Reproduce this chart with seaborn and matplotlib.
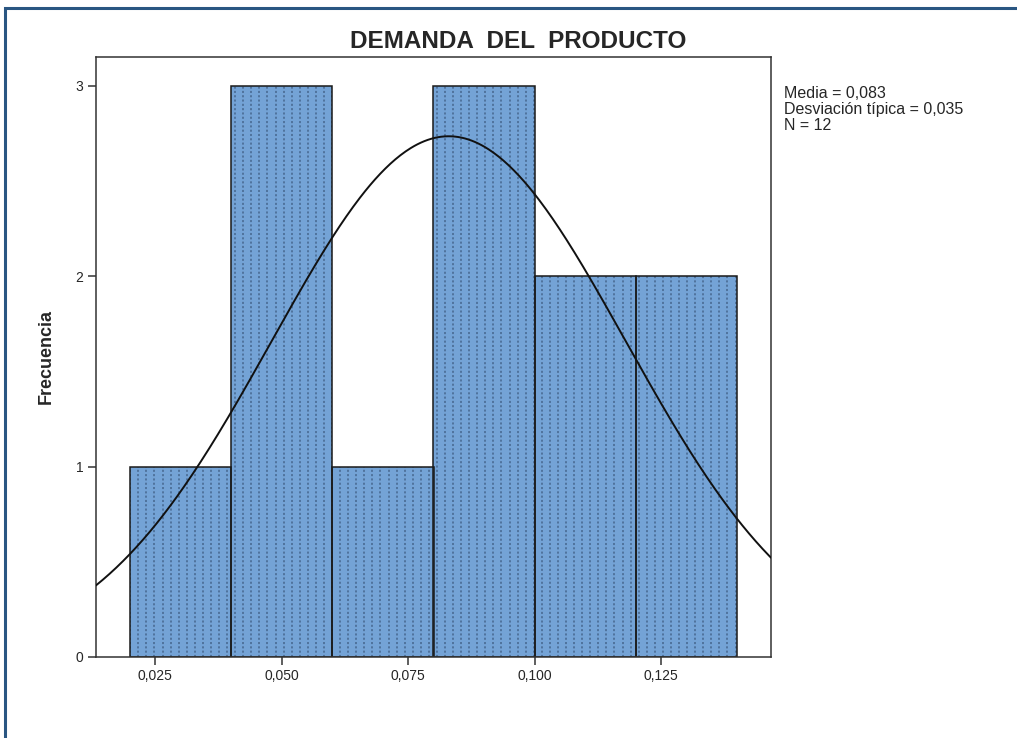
import numpy as np
import matplotlib
matplotlib.use("Agg")
import matplotlib.pyplot as plt
import seaborn as sns
from matplotlib.patches import Rectangle

sns.set_style("white")
plt.rcParams['font.family'] = ['Liberation Sans', 'DejaVu Sans']
plt.rcParams['lines.scale_dashes'] = False

# data
bin_edges = [0.02, 0.04, 0.06, 0.08, 0.10, 0.12, 0.14]
bin_centers = [0.03, 0.05, 0.07, 0.09, 0.11, 0.13]
counts = [1, 3, 1, 3, 2, 2]
mean_val = 0.083
sd_val = 0.035
n_val = 12
xticks = [0.025, 0.050, 0.075, 0.100, 0.125]
xtick_labels = ["0,025", "0,050", "0,075", "0,100", "0,125"]
yticks = [0, 1, 2, 3]
title = "DEMANDA  DEL  PRODUCTO"
ylabel = "Frecuencia"
stats_text = "Media = 0,083\nDesviación típica = 0,035\nN = 12"

W, H = 1017, 738
fig = plt.figure(figsize=(W/100, H/100), dpi=100)
ax_l, ax_r, ax_t, ax_b = 96, 771, 57, 657
ax = fig.add_axes([ax_l/W, 1-ax_b/H, (ax_r-ax_l)/W, (ax_b-ax_t)/H])

xlim = (0.01328, 0.14672)
ax.set_xlim(*xlim)
ax.set_ylim(0, 3.152)

sns.histplot(x=bin_centers, weights=counts, bins=bin_edges, ax=ax,
             color="#74a3d6", alpha=1, linewidth=0, zorder=1)
bars = list(ax.patches)

# dotted vertical texture inside the bars (SPSS fill pattern)
px = (xlim[1]-xlim[0]) / (ax_r-ax_l)
grid = np.arange(xlim[0] + 2*px, xlim[1], 8.07*px)
for p in bars:
    lc = ax.vlines(grid, 0, 3.2, colors="#46668e", linewidth=1.1,
                   linestyles=[(0, (1.5, 1.6))], zorder=1.5)
    lc.set_clip_path(p)

sns.histplot(x=bin_centers, weights=counts, bins=bin_edges, ax=ax,
             fill=False, color="#1a1a1a", edgecolor="#1a1a1a", linewidth=1.1, zorder=2)

xs = np.linspace(xlim[0], xlim[1], 400)
binw = bin_edges[1] - bin_edges[0]
ys = n_val * binw / (sd_val * np.sqrt(2 * np.pi)) * np.exp(-0.5 * ((xs - mean_val) / sd_val) ** 2)
ax.plot(xs, ys, color="#111111", lw=1.4, zorder=3)

ax.set_xticks(xticks)
ax.set_xticklabels(xtick_labels)
ax.set_yticks(yticks)
ax.tick_params(axis='both', direction='out', length=6, width=1.1, color="#333333",
               labelsize=10, pad=3, bottom=True, left=True)
for s in ax.spines.values():
    s.set_color("#333333")
    s.set_linewidth(1.1)
ax.set_xlabel("")
ax.set_ylabel(ylabel, fontsize=13, fontweight='bold', labelpad=15)

fig.text(518/W, 1-42/H, title, ha='center', va='center', fontsize=17.5, fontweight='bold')
fig.text(784/W, 1-86/H, stats_text, ha='left', va='top', fontsize=11.5, linespacing=1.1)

fig.patches.append(Rectangle((5/W, -0.05), 1.2, 1 - 8/H + 0.05, transform=fig.transFigure,
                             fill=False, edgecolor="#2a5682", lw=2.2, zorder=10))

fig.savefig("out.png", dpi=100)
